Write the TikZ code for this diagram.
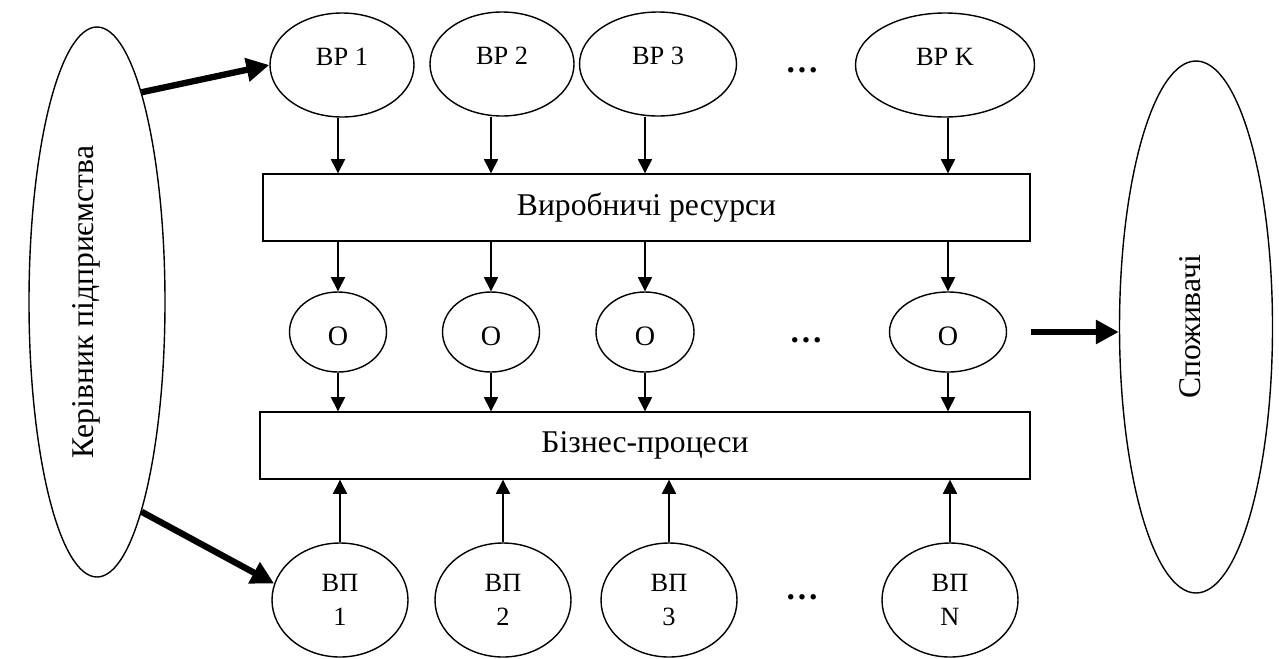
\documentclass[tikz,border=0pt]{standalone}
\usepackage{fontspec}
\setmainfont{Liberation Serif}
\usetikzlibrary{arrows.meta,shapes.geometric}

\begin{document}
\begin{tikzpicture}[
    txt/.style={font=\fontsize{15}{19}\selectfont},
    oval/.style={draw, ellipse, line width=0.8pt, inner sep=0pt, align=center, txt},
    topoval/.style={oval, minimum height=2.08cm, text height=0.4cm, text depth=0.4cm},
    midoval/.style={oval, minimum height=1.60cm, text height=0.55cm, text depth=0pt, font=\fontsize{16}{19}\selectfont},
    lowoval/.style={oval, minimum width=2.72cm, minimum height=2.28cm},
    sideoval/.style={oval, font=\fontsize{18}{20}\selectfont},
    band/.style={draw, rectangle, line width=0.8pt, inner sep=0pt, minimum height=1.34cm, font=\fontsize{18}{20}\selectfont},
    dotsnode/.style={inner sep=0pt, font=\fontsize{19}{20}\selectfont\bfseries},
    arrow/.style={-{Triangle[length=8pt, width=8pt]}, line width=0.8pt},
    bigarrow/.style={-{Triangle[length=13pt, width=13pt]}, line width=3.6pt},
]
\useasboundingbox (0,0) rectangle (25.58,-13.16);

% left and right sides
\node[sideoval, minimum width=2.72cm, minimum height=11cm] (boss) at (1.94,-6.04) {\rotatebox{90}{Керівник підприємства}\hspace{0.44cm}};
\node[sideoval, minimum width=3.06cm, minimum height=10.64cm] (cons) at (23.92,-6.54) {\rotatebox{90}{Споживачі}\hspace{0.24cm}};

% resources (top row)
\node[topoval, minimum width=2.88cm] (vr1) at (6.84,-1.30) {ВР 1};
\node[topoval, minimum width=2.88cm] (vr2) at (10.04,-1.28) {ВР 2};
\node[topoval, minimum width=3.14cm] (vr3) at (13.16,-1.28) {ВР 3};
\node[dotsnode] (dtop) at (16.04,-1.40) {…};
\node[topoval, minimum width=3.58cm] (vrk) at (18.90,-1.30) {ВР K};

\node[band, minimum width=15.34cm] (res) at (12.93,-4.15) {Виробничі ресурси};

% middle row
\node[midoval, minimum width=1.94cm] (o1) at (6.76,-6.64) {О};
\node[midoval, minimum width=1.94cm] (o2) at (9.82,-6.64) {О};
\node[midoval, minimum width=1.96cm] (o3) at (12.90,-6.64) {О};
\node[dotsnode] (dmid) at (16.12,-6.80) {…};
\node[midoval, minimum width=2.34cm] (o4) at (18.96,-6.64) {О};

\node[band, minimum width=15.40cm] (bp) at (12.90,-8.91) {Бізнес-процеси};

% processes (bottom row)
\node[lowoval] (vp1) at (6.80,-12.00) {ВП\\1};
\node[lowoval] (vp2) at (10.06,-12.00) {ВП\\2};
\node[lowoval] (vp3) at (13.38,-12.00) {ВП\\3};
\node[dotsnode] (dlow) at (16.04,-11.94) {…};
\node[lowoval] (vpn) at (19.00,-12.00) {ВП\\N};

% connectors
\foreach \vr/\ov in {vr1/o1, vr2/o2, vr3/o3, vrk/o4} {
    \draw[arrow] (\vr.south -| \ov) -- (\ov |- res.north);
    \draw[arrow] (\ov |- res.south) -- (\ov.north);
    \draw[arrow] (\ov.south) -- (\ov |- bp.north);
}
\foreach \vp in {vp1, vp2, vp3, vpn}
    \draw[arrow] (\vp.north) -- (\vp |- bp.south);

\draw[bigarrow] (boss.78) -- (vr1.west);
\draw[bigarrow] (boss.-78) -- (vp1.166);
\draw[bigarrow] (o4.east -| res.east) -- (o4.east -| cons.west);

\end{tikzpicture}
\end{document}
